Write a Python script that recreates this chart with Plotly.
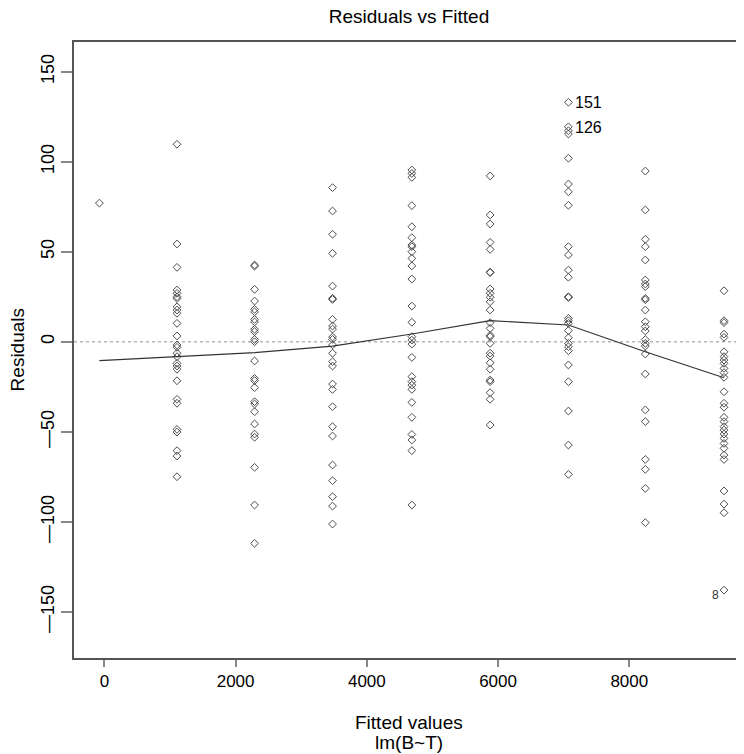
import plotly.graph_objects as go

# ---- data ----
fitted_levels = [-76, 1107, 2289, 3477, 4686, 5879, 7072, 8244, 9443]

res_g0 = [77]
res_g1 = [109.7, 54.3, 41.3, 28.7, 26.9, 25, 24, 19.4, 17.6, 15.8, 10.2, 3.2, -1.8, -3.1,
          -6.4, -8.3, -12, -13.5, -15.3, -21.7, -32, -34.2, -48.7, -50.2, -60.5, -63.5, -75]
res_g2 = [42.6, 42, 29.1, 22.6, 18, 16.6, 12.4, 11, 6.9, 5.6, 1.3, 0, -10.7, -20.4, -21.6,
          -25.5, -33.3, -34.6, -38.9, -45.7, -51.3, -53.1, -69.8, -90.7, -112]
res_g3 = [85.6, 72.6, 59.7, 49.1, 30.9, 24.1, 23.5, 12.4, 8.7, 7.0, 2.6, 1.3, -1.8, -6.4,
          -11.1, -13.5, -23.5, -26.5, -36.1, -47.2, -52.4, -68.5, -77.2, -86.1, -91.3, -101.3]
res_g4 = [95.4, 93.5, 91.3, 75.6, 63.9, 57.8, 53.7, 52.8, 50, 46.3, 42.1, 34.8, 19.8, 10.8,
          2.8, 0.9, -1.3, -8.7, -19.4, -22.2, -24.1, -26.5, -33.7, -42, -51.5, -54.6, -60.5, -90.7]
res_g5 = [92.1, 70.4, 65.4, 55.2, 51.3, 38.7, 38.4, 29.3, 26.9, 24.7, 22.2, 17.6, 10.6, 7.4,
          3.5, 2.8, -0.9, -6.4, -8, -11.7, -15.3, -21.3, -22.2, -28.3, -32, -46.3]
res_g6 = [133, 119.4, 117.2, 115.4, 101.9, 87.6, 83.3, 75.8, 52.8, 48.2, 39.8, 35.8, 25, 24.6,
          13, 11.7, 10.2, 6.2, 2.2, -0.9, -2.8, -5, -12.9, -22.2, -38.5, -57.4, -73.7]
res_g7 = [94.8, 73.2, 56.9, 52.8, 45.4, 34.3, 32.1, 30.6, 24.1, 23.3, 17.6, 11.1, 8.3, 6.0,
          1.2, -0.9, -2.4, -6.8, -17.9, -37.9, -44.4, -65.4, -70.9, -81.5, -100.5]
res_g8 = [28.3, 11.7, 10.6, 4.2, 2.4, -5.6, -8.3, -10.2, -12, -14.8, -17.2, -19.8, -27.8,
          -34.2, -36.4, -42, -44.4, -47.2, -49.1, -51.3, -53.7, -56.5, -59.2, -63, -65.4,
          -82.9, -90.2, -95, -138]

lowess_x = fitted_levels
lowess_y = [-10.5, -8.3, -6.1, -2.4, 4.3, 11.7, 9.3, -5.6, -20]

# labelled observations: (fitted, residual, label)
label_ids = ["151", "126", "8"]
label_x = [7072, 7072, 9443]
label_y = [133, 119.0, -138]

x_ticks = [0, 2000, 4000, 6000, 8000]
y_ticks = [-150, -100, -50, 0, 50, 100, 150]
y_ticktext = [("\u2014" + str(-v)) if v < 0 else str(v) for v in y_ticks]

# ---- build ----
groups = [res_g0, res_g1, res_g2, res_g3, res_g4, res_g5, res_g6, res_g7, res_g8]
xs, ys = [], []
for f, g in zip(fitted_levels, groups):
    xs += [f] * len(g)
    ys += g

FONT = "Liberation Sans, Arial, Helvetica, sans-serif"
W, H = 736, 746  # page body has an 8px margin

fig = go.Figure()
fig.add_shape(type="line", xref="paper", x0=0, x1=1, yref="y", y0=0, y1=0,
              line=dict(color="#b5b5b5", width=1.5, dash="dot"), layer="below")
fig.add_trace(go.Scatter(x=xs, y=ys, mode="markers",
                         marker=dict(symbol="diamond-open", size=6, color="#4d4d4d",
                                     line=dict(width=1, color="#4d4d4d")),
                         showlegend=False, hoverinfo="x+y"))
fig.add_trace(go.Scatter(x=lowess_x, y=lowess_y, mode="lines",
                         line=dict(color="#333", width=1.2), showlegend=False))

annotations = []
for lid, lx, ly in zip(label_ids, label_x, label_y):
    if lid == "8":
        annotations.append(dict(x=lx, y=ly, xref="x", yref="y", text=lid, showarrow=False,
                                xanchor="right", yanchor="middle", xshift=-3, yshift=-5,
                                font=dict(family=FONT, size=12, color="#333")))
    else:
        annotations.append(dict(x=lx, y=ly, xref="x", yref="y", text=lid, showarrow=False,
                                xanchor="left", yanchor="middle", xshift=5,
                                font=dict(family=FONT, size=16, color="black")))

annotations += [
    dict(text="Residuals", xref="paper", yref="paper", x=-0.0845, y=0.5, textangle=-90,
         showarrow=False, xanchor="center", yanchor="middle",
         font=dict(family=FONT, size=19, color="black")),
    dict(text="Fitted values", xref="paper", yref="paper", x=0.5, y=-0.105,
         showarrow=False, xanchor="center", yanchor="middle",
         font=dict(family=FONT, size=19, color="black")),
    dict(text="lm(B~T)", xref="paper", yref="paper", x=0.5, y=-0.1375,
         showarrow=False, xanchor="center", yanchor="middle",
         font=dict(family=FONT, size=19, color="black")),
]

fig.update_layout(
    width=W, height=H,
    margin=dict(l=66, r=0, t=34, b=H - 34 - 616),
    paper_bgcolor="white", plot_bgcolor="white",
    title=dict(text="Residuals vs Fitted", x=0.5, xref="paper", xanchor="center",
               y=1 - 8 / H, yref="container", yanchor="middle",
               font=dict(family=FONT, size=19, color="black")),
    xaxis=dict(range=[-463, 9748], tickvals=x_ticks, ticks="outside", ticklen=7,
               tickcolor="#888", tickwidth=1.5, showline=True, linecolor="#555",
               linewidth=1.5, mirror=True, showgrid=False, zeroline=False,
               tickfont=dict(family=FONT, size=17, color="black")),
    yaxis=dict(range=[-175.7, 166.5], tickvals=y_ticks, ticktext=y_ticktext,
               tickangle=-90, ticks="outside", ticklen=11, tickcolor="#888",
               tickwidth=1.5, showline=True, linecolor="#555", linewidth=1.5,
               mirror=False, showgrid=False, zeroline=False,
               tickfont=dict(family=FONT, size=18, color="black")),
    annotations=annotations,
    showlegend=False,
)

fig.write_html("out.html")
